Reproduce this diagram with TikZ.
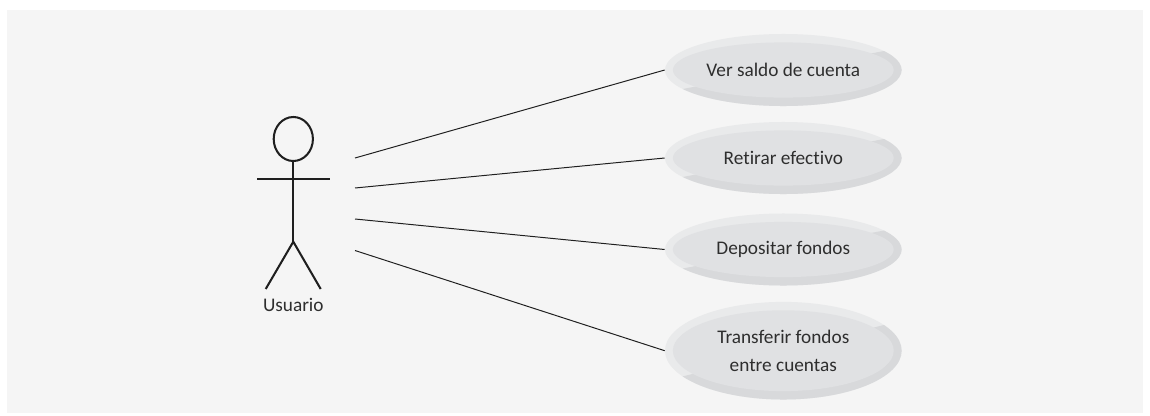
\documentclass[tikz,border=0pt]{standalone}
\usepackage{fontspec}
\setmainfont[Ligatures=NoCommon]{Carlito}
\usetikzlibrary{calc,shapes.geometric}
\definecolor{pagebg}{HTML}{F5F5F5}
\definecolor{rimlight}{HTML}{E9EAEB}
\definecolor{rimdark}{HTML}{D8D9DB}
\definecolor{faceuc}{HTML}{E0E1E3}
\definecolor{inkuc}{HTML}{2E2E2E}
\tikzset{
  usecase/.style={ellipse, inner sep=0pt, minimum width=5.915cm, minimum height=#1,
    fill=rimlight, align=center, text=inkuc, font=\fontsize{13.7}{20}\selectfont,
    path picture={
      \fill[rimdark] ($(path picture bounding box.west)!0.62!(path picture bounding box.south west)$)
        -- ($(path picture bounding box.east)!0.62!(path picture bounding box.north east)$)
        -- (path picture bounding box.south east) -- (path picture bounding box.south west) -- cycle;
      \fill[faceuc] (path picture bounding box.center) ellipse (2.76cm and {#1/2-0.21cm});
    }},
  limb/.style={line width=1.45pt, draw=black!88},
  assoc/.style={line width=0.7pt, draw=black!88}
}
\begin{document}
\begin{tikzpicture}[x=0.025cm,y=-0.025cm]
\useasboundingbox (0,0) rectangle (1150,415);
\fill[white] (0,0) rectangle (1150,415);
\fill[pagebg] (7,10) rectangle (1143,413);

% Actor
\node[ellipse, limb, draw, inner sep=0pt, minimum width=0.98cm, minimum height=1.1cm] (head) at (293.3,139) {};
\coordinate (hip) at (293.3,241.7);
\coordinate (handl) at (257,179.3);
\coordinate (handr) at (329.7,179.3);
\coordinate (footl) at (265.7,289);
\coordinate (footr) at (320.7,289);
\draw[limb] (head.south) -- (hip);
\draw[limb] (handl) -- (handr);
\draw[limb] (footl) -- (hip) -- (footr);
\node[text=inkuc, font=\fontsize{13.7}{16}\selectfont] (usuario) at (293.3,305) {Usuario};

% Use cases
\node[usecase=1.8cm] (saldo) at (783.3,70) {Ver saldo de cuenta};
\node[usecase=1.8cm] (retirar) at (783.3,158) {Retirar efectivo};
\node[usecase=1.8cm] (depositar) at (783.3,249.5) {Depositar fondos};
\node[usecase=2.44cm] (transferir) at (783.3,350.7) {Transferir fondos\\entre cuentas};

% Associations
\coordinate (a1) at (355,158);
\coordinate (a2) at (355,188);
\coordinate (a3) at (355,219);
\coordinate (a4) at (355,250.5);
\draw[assoc] (a1) -- (saldo.west);
\draw[assoc] (a2) -- (retirar.west);
\draw[assoc] (a3) -- (depositar.west);
\draw[assoc] (a4) -- (transferir.west);

\end{tikzpicture}
\end{document}
